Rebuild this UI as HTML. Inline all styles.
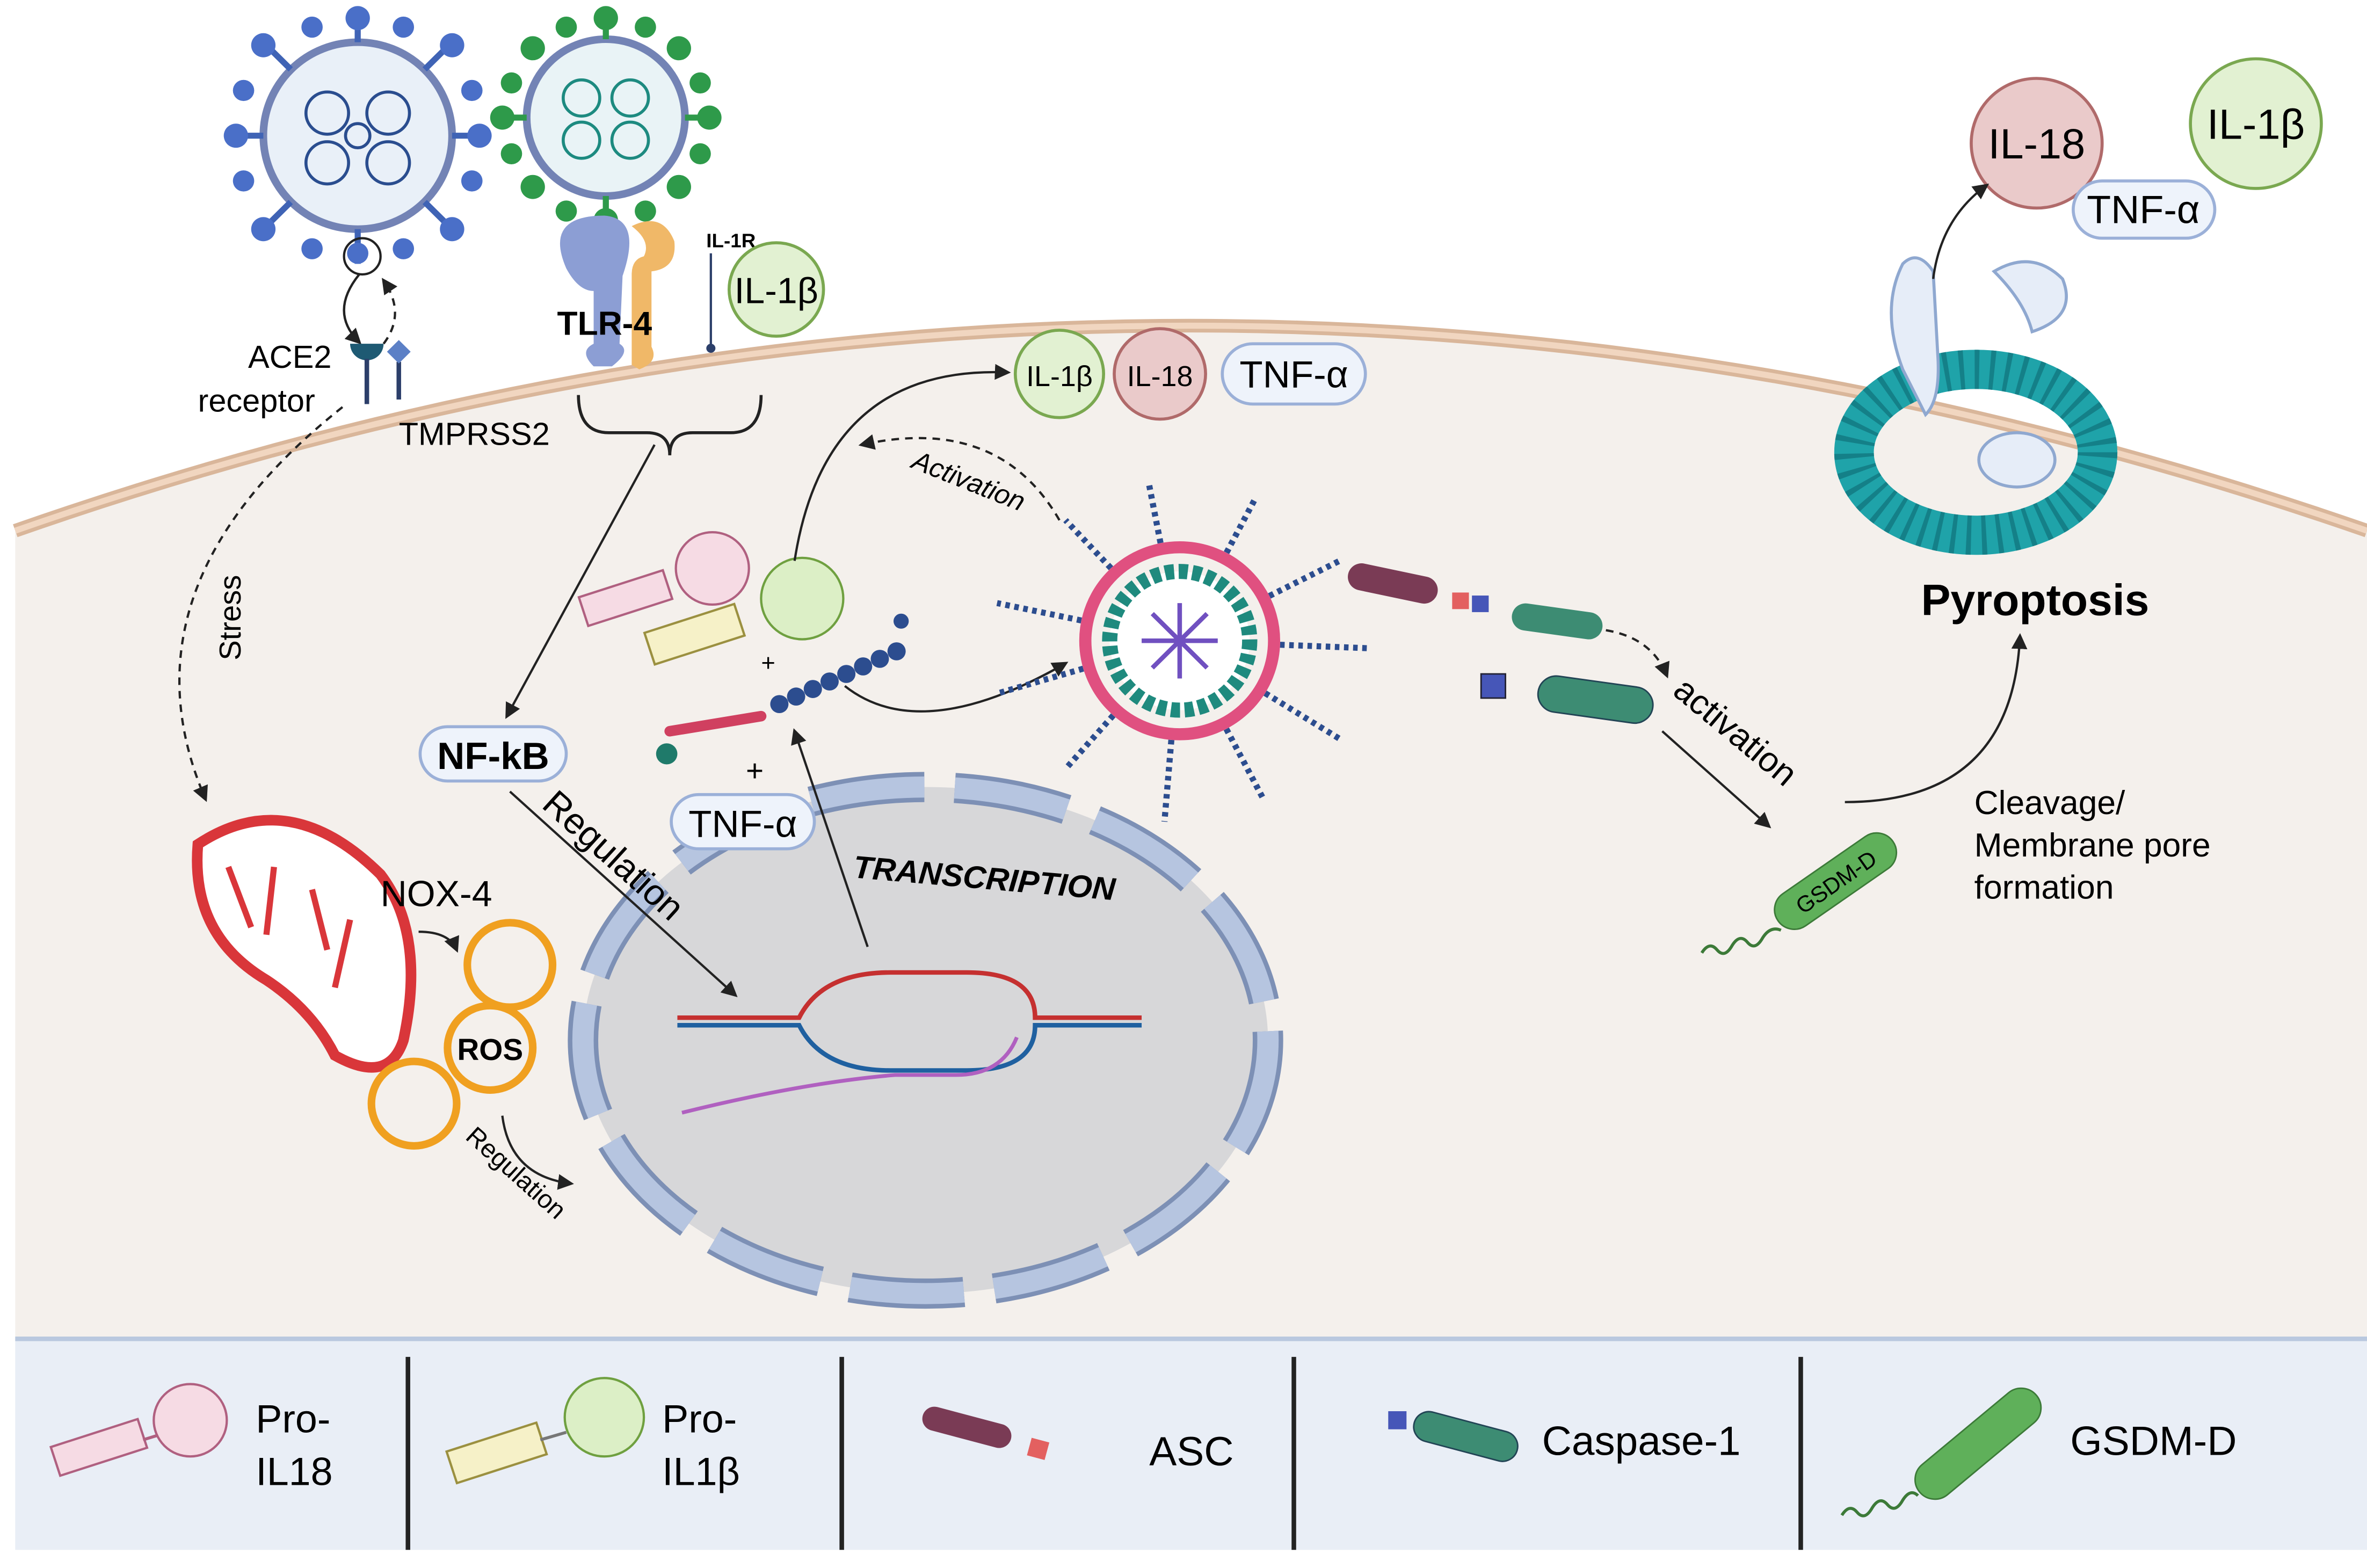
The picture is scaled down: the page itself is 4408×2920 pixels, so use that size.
<!DOCTYPE html>
<html><head><meta charset="utf-8"><style>
html,body{margin:0;padding:0;background:#fff;}
svg{display:block;}
text{font-family:"Liberation Sans",sans-serif;}
</style></head><body>
<svg width="4408" height="2920" viewBox="0 0 1555 1040" preserveAspectRatio="none" xmlns="http://www.w3.org/2000/svg">
<defs>
<marker id="ar" viewBox="0 0 10 10" refX="8" refY="5" markerWidth="7" markerHeight="7" orient="auto"><path d="M0,0 L10,5 L0,10 z" fill="#222"/></marker>
</defs>
<rect width="1555" height="1040" fill="#fff"/>
<path d="M10,352 Q780,80 1555,352 L1555,890 L10,890 Z" fill="#f4f0ec"/>
<path d="M10,352 Q780,80 1555,352" fill="none" stroke="#d9b69a" stroke-width="9"/>
<path d="M10,352 Q780,80 1555,352" fill="none" stroke="#f1d6c0" stroke-width="4"/>
<rect x="10" y="888" width="1545" height="140" fill="#e9eef6"/>
<line x1="10" y1="888" x2="1555" y2="888" stroke="#b9c8df" stroke-width="3"/>
<g stroke="#222" stroke-width="3"><line x1="268" y1="900" x2="268" y2="1028"/><line x1="553" y1="900" x2="553" y2="1028"/><line x1="850" y1="900" x2="850" y2="1028"/><line x1="1183" y1="900" x2="1183" y2="1028"/></g>
<g transform="rotate(-18 65 960)"><rect x="35" y="950" width="60" height="20" fill="#f6dbe4" stroke="#b06080" stroke-width="1.5"/></g>
<line x1="94" y1="955" x2="110" y2="950" stroke="#b06080" stroke-width="2"/>
<circle cx="125" cy="942" r="24" fill="#f6dbe4" stroke="#b06080" stroke-width="1.5"/>
<text x="168" y="950" font-size="26">Pro-</text><text x="168" y="985" font-size="26">IL18</text>
<g transform="rotate(-18 325 963)"><rect x="295" y="953" width="62" height="22" fill="#f6f1c8" stroke="#9b9040" stroke-width="1.5"/></g>
<line x1="355" y1="955" x2="372" y2="950" stroke="#777" stroke-width="2"/>
<circle cx="397" cy="940" r="26" fill="#dcefc6" stroke="#6fa040" stroke-width="1.5"/>
<text x="435" y="950" font-size="26">Pro-</text><text x="435" y="985" font-size="26">IL1β</text>
<g transform="rotate(15 640 948)"><rect x="605" y="940" width="60" height="16" rx="8" fill="#7a3b55"/></g>
<rect x="676" y="955" width="12" height="12" fill="#e36060" transform="rotate(15 682 961)"/>
<text x="755" y="972" font-size="27">ASC</text>
<rect x="912" y="936" width="12" height="12" fill="#4656b8"/>
<g transform="rotate(15 960 952)"><rect x="928" y="942" width="70" height="20" rx="10" fill="#3d8c73" stroke="#245" stroke-width="1"/></g>
<text x="1013" y="965" font-size="27">Caspase-1</text>
<g transform="rotate(-40 1295 960)"><rect x="1250" y="948" width="100" height="26" rx="13" fill="#5fb05a" stroke="#3c7a38"/></g>
<path d="M1210,1005 q5,-8 10,-2 q5,6 10,-3 q5,-8 10,-2 q5,6 10,-3 q5,-8 10,-3" fill="none" stroke="#3c7a38" stroke-width="2"/>
<text x="1360" y="965" font-size="27">GSDM-D</text>
<circle cx="235" cy="90" r="62" fill="#e9f0f8" stroke="#7383b5" stroke-width="5"/>
<g stroke="#3f63b5" stroke-width="4"><line x1="235" y1="28" x2="235" y2="10"/><line x1="235" y1="152" x2="235" y2="175"/><line x1="173" y1="90" x2="155" y2="90"/><line x1="297" y1="90" x2="315" y2="90"/><line x1="191" y1="46" x2="175" y2="30"/><line x1="279" y1="46" x2="295" y2="30"/><line x1="191" y1="134" x2="175" y2="150"/><line x1="279" y1="134" x2="295" y2="150"/></g>
<g fill="#4a6fc8"><circle cx="235" cy="12" r="8"/><circle cx="155" cy="90" r="8"/><circle cx="315" cy="90" r="8"/><circle cx="173" cy="30" r="8"/><circle cx="297" cy="30" r="8"/><circle cx="173" cy="152" r="8"/><circle cx="297" cy="152" r="8"/><circle cx="205" cy="18" r="7"/><circle cx="265" cy="18" r="7"/><circle cx="160" cy="60" r="7"/><circle cx="310" cy="60" r="7"/><circle cx="160" cy="120" r="7"/><circle cx="310" cy="120" r="7"/><circle cx="205" cy="165" r="7"/><circle cx="265" cy="165" r="7"/><circle cx="235" cy="168" r="7"/></g>
<g fill="none" stroke="#2a4d8f" stroke-width="2"><circle cx="215" cy="75" r="14"/><circle cx="255" cy="75" r="14"/><circle cx="215" cy="108" r="14"/><circle cx="255" cy="108" r="14"/><circle cx="235" cy="90" r="8"/></g>
<circle cx="238" cy="170" r="12" fill="none" stroke="#222" stroke-width="1.5"/>
<circle cx="398" cy="78" r="52" fill="#e9f3f6" stroke="#7383b5" stroke-width="5"/>
<g stroke="#2e9a4a" stroke-width="4"><line x1="398" y1="26" x2="398" y2="10"/><line x1="398" y1="130" x2="398" y2="146"/><line x1="346" y1="78" x2="330" y2="78"/><line x1="450" y1="78" x2="466" y2="78"/></g>
<g fill="#2e9a4a"><circle cx="398" cy="12" r="8"/><circle cx="398" cy="146" r="8"/><circle cx="330" cy="78" r="8"/><circle cx="466" cy="78" r="8"/><circle cx="350" cy="32" r="8"/><circle cx="446" cy="32" r="8"/><circle cx="350" cy="124" r="8"/><circle cx="446" cy="124" r="8"/><circle cx="372" cy="18" r="7"/><circle cx="424" cy="18" r="7"/><circle cx="336" cy="55" r="7"/><circle cx="460" cy="55" r="7"/><circle cx="336" cy="102" r="7"/><circle cx="460" cy="102" r="7"/><circle cx="372" cy="140" r="7"/><circle cx="424" cy="140" r="7"/></g>
<g fill="none" stroke="#1d8a80" stroke-width="2"><circle cx="382" cy="65" r="12"/><circle cx="414" cy="65" r="12"/><circle cx="382" cy="93" r="12"/><circle cx="414" cy="93" r="12"/></g>
<path d="M236,182 q-20,25 0,45" fill="none" stroke="#222" stroke-width="1.5" marker-end="url(#ar)"/>
<path d="M252,228 q15,-20 0,-42" fill="none" stroke="#222" stroke-width="1.5" stroke-dasharray="5,4" marker-end="url(#ar)"/>
<path d="M230,228 a11,11 0 0 0 22,0 z" fill="#1e5a73"/>
<line x1="241" y1="238" x2="241" y2="268" stroke="#2c3f6a" stroke-width="3"/>
<line x1="262" y1="240" x2="262" y2="265" stroke="#2c3f6a" stroke-width="3"/>
<rect x="256" y="228" width="11" height="11" fill="#5c80c6" transform="rotate(45 262 234)"/>
<text x="163" y="244" font-size="21">ACE2</text><text x="130" y="273" font-size="21">receptor</text>
<text x="262" y="295" font-size="21">TMPRSS2</text>
<path d="M372,178 q-15,-35 25,-35 q25,2 12,40 l-2,45 q8,5 -5,15 l-12,0 q-10,-10 0,-15 l0,-35 q-10,0 -18,-15z" fill="#8c9ed4"/>
<path d="M415,150 q20,-10 28,10 q2,18 -15,20 l0,50 q5,10 -8,15 l-5,-3 l0,-60 q0,-10 8,-12 q5,-10 -8,-20z" fill="#f0b868"/>
<text x="366" y="222" font-size="22" font-weight="bold">TLR-4</text>
<text x="464" y="164" font-size="13" font-weight="bold">IL-1R</text>
<line x1="467" y1="168" x2="467" y2="230" stroke="#2c3f6a" stroke-width="1.5"/><circle cx="467" cy="231" r="3" fill="#2c3f6a"/>
<circle cx="510" cy="192" r="31" fill="#e2f1d2" stroke="#7aa850" stroke-width="2"/>
<text x="510" y="201" font-size="24" text-anchor="middle">IL-1β</text>
<path d="M380,262 q0,25 20,25 l25,0 q15,0 15,15 q0,-15 15,-15 l25,0 q20,0 20,-25" fill="none" stroke="#222" stroke-width="2"/>
<circle cx="696" cy="248" r="29" fill="#e2f1d2" stroke="#7aa850" stroke-width="2"/><text x="696" y="256" font-size="19" text-anchor="middle">IL-1β</text>
<circle cx="762" cy="248" r="30" fill="#eacaca" stroke="#b06a6a" stroke-width="2"/><text x="762" y="256" font-size="19" text-anchor="middle">IL-18</text>
<rect x="803" y="228" width="94" height="40" rx="20" fill="#eef3fb" stroke="#9bb0d8" stroke-width="2"/><text x="850" y="257" font-size="25" text-anchor="middle">TNF-α</text>
<circle cx="1338" cy="95" r="43" fill="#eacaca" stroke="#b06a6a" stroke-width="2"/><text x="1338" y="105" font-size="28" text-anchor="middle">IL-18</text>
<circle cx="1482" cy="82" r="43" fill="#e2f1d2" stroke="#7aa850" stroke-width="2"/><text x="1482" y="92" font-size="28" text-anchor="middle">IL-1β</text>
<rect x="1362" y="120" width="93" height="38" rx="19" fill="#eef3fb" stroke="#9bb0d8" stroke-width="2"/><text x="1408" y="148" font-size="26" text-anchor="middle">TNF-α</text>
<ellipse cx="1298" cy="300" rx="80" ry="55" fill="none" stroke="#1fa3a9" stroke-width="26"/>
<ellipse cx="1298" cy="300" rx="80" ry="55" fill="none" stroke="#148088" stroke-width="26" stroke-dasharray="3,7"/>
<path d="M1250,175 q-15,30 0,70 l15,30 q10,-10 8,-40 l-3,-55 q-10,-15 -20,-5z" fill="#e6edf8" stroke="#8fa8d0" stroke-width="2"/>
<path d="M1310,180 q25,-15 45,5 q10,25 -20,35 q-5,-20 -25,-40z" fill="#e6edf8" stroke="#8fa8d0" stroke-width="2"/>
<ellipse cx="1325" cy="305" rx="25" ry="18" fill="#e6edf8" stroke="#8fa8d0" stroke-width="2"/>
<path d="M1270,185 q5,-40 35,-62" fill="none" stroke="#222" stroke-width="1.5" marker-end="url(#ar)"/>
<text x="1337" y="408" font-size="29" font-weight="bold" text-anchor="middle">Pyroptosis</text>
<path d="M1212,532 q110,0 115,-110" fill="none" stroke="#222" stroke-width="1.5" marker-end="url(#ar)"/>
<text x="1297" y="540" font-size="22">Cleavage/</text><text x="1297" y="568" font-size="22">Membrane pore</text><text x="1297" y="596" font-size="22">formation</text>
<line x1="430" y1="295" x2="333" y2="475" stroke="#222" stroke-width="1.5" marker-end="url(#ar)"/>
<path d="M225,270 q-150,120 -90,260" fill="none" stroke="#222" stroke-width="1.5" stroke-dasharray="5,4" marker-end="url(#ar)"/>
<text transform="translate(158,438) rotate(-90)" font-size="20">Stress</text>
<rect x="276" y="482" width="96" height="36" rx="18" fill="#eef3fb" stroke="#9bb0d8" stroke-width="2"/><text x="324" y="510" font-size="25" font-weight="bold" text-anchor="middle">NF-kB</text>
<path d="M130,560 q60,-40 120,20 q30,40 15,110 q-10,30 -45,10 q-15,-30 -45,-50 q-50,-30 -45,-90z" fill="#fff" stroke="#d9363a" stroke-width="7"/>
<path d="M150,575 l15,40 M180,575 l-5,45 M205,590 l10,40 M230,610 l-10,45" stroke="#d9363a" stroke-width="4"/>
<text x="250" y="601" font-size="24">NOX-4</text>
<path d="M275,618 q20,0 25,12" fill="none" stroke="#222" stroke-width="1.5" marker-end="url(#ar)"/>
<g fill="none" stroke="#f0a020" stroke-width="5"><circle cx="335" cy="640" r="28"/><circle cx="322" cy="695" r="28"/><circle cx="272" cy="732" r="28"/></g>
<text x="322" y="703" font-size="20" font-weight="bold" text-anchor="middle">ROS</text>
<path d="M330,740 q5,40 45,45" fill="none" stroke="#222" stroke-width="1.5" marker-end="url(#ar)"/>
<text transform="translate(305,755) rotate(42)" font-size="17">Regulation</text>
<ellipse cx="608" cy="690" rx="225" ry="168" fill="#d7d7d9"/>
<ellipse cx="608" cy="690" rx="225" ry="168" fill="none" stroke="#7d90b5" stroke-width="20" stroke-dasharray="75,20"/>
<ellipse cx="608" cy="690" rx="225" ry="168" fill="none" stroke="#b6c5e0" stroke-width="14" stroke-dasharray="75,20"/>
<line x1="335" y1="525" x2="483" y2="660" stroke="#222" stroke-width="1.5" marker-end="url(#ar)"/>
<text transform="translate(355,535) rotate(42)" font-size="24">Regulation</text>
<text transform="translate(560,582) rotate(5)" font-size="21" font-weight="bold" font-style="italic">TRANSCRIPTION</text>
<path d="M445,675 l80,0 q15,-30 60,-30 l50,0 q45,0 45,30 l70,0" fill="none" stroke="#c53030" stroke-width="3"/>
<path d="M445,680 l80,0 q15,30 60,30 l50,0 q45,0 45,-30 l70,0" fill="none" stroke="#1f60a0" stroke-width="3"/>
<path d="M448,738 q80,-20 140,-25 l40,0 q30,0 40,-25" fill="none" stroke="#b060c0" stroke-width="2.5"/>
<line x1="570" y1="628" x2="522" y2="485" stroke="#222" stroke-width="1.5" marker-end="url(#ar)"/>
<text x="490" y="518" font-size="20">+</text>
<rect x="441" y="527" width="94" height="36" rx="18" fill="#eef3fb" stroke="#9bb0d8" stroke-width="2"/><text x="488" y="555" font-size="25" text-anchor="middle">TNF-α</text>
<g transform="rotate(-18 410 397)"><rect x="382" y="387" width="58" height="20" fill="#f6dbe4" stroke="#b06080" stroke-width="1.5"/></g>
<circle cx="468" cy="377" r="24" fill="#f6dbe4" stroke="#b06080" stroke-width="1.5"/>
<g transform="rotate(-18 455 420)"><rect x="425" y="410" width="62" height="22" fill="#f6f1c8" stroke="#9b9040" stroke-width="1.5"/></g>
<circle cx="527" cy="397" r="27" fill="#dcefc6" stroke="#6fa040" stroke-width="1.5"/>
<text x="500" y="445" font-size="16">+</text>
<path d="M522,372 q20,-130 140,-125" fill="none" stroke="#222" stroke-width="1.5" marker-end="url(#ar)"/>
<path d="M696,345 q-40,-70 -130,-50" fill="none" stroke="#222" stroke-width="1.5" stroke-dasharray="5,4" marker-end="url(#ar)"/>
<text transform="translate(598,310) rotate(22)" font-size="18" font-style="italic">Activation</text>
<line x1="440" y1="485" x2="500" y2="475" stroke="#d04060" stroke-width="7" stroke-linecap="round"/>
<circle cx="438" cy="500" r="7" fill="#1f7a6a"/>
<g fill="#2c4d8f"><circle cx="512" cy="467" r="6"/><circle cx="523" cy="462" r="6"/><circle cx="534" cy="457" r="6"/><circle cx="545" cy="452" r="6"/><circle cx="556" cy="447" r="6"/><circle cx="567" cy="442" r="6"/><circle cx="578" cy="437" r="6"/><circle cx="589" cy="432" r="6"/><circle cx="592" cy="412" r="5"/></g>
<path d="M555,455 q50,40 145,-15" fill="none" stroke="#222" stroke-width="1.5" marker-end="url(#ar)"/>
<g stroke="#2c4d8f" stroke-width="4" stroke-dasharray="3,3"><line x1="775" y1="425" x2="700" y2="345"/><line x1="775" y1="425" x2="755" y2="322"/><line x1="775" y1="425" x2="825" y2="330"/><line x1="775" y1="425" x2="880" y2="372"/><line x1="775" y1="425" x2="900" y2="430"/><line x1="775" y1="425" x2="880" y2="490"/><line x1="775" y1="425" x2="830" y2="530"/><line x1="775" y1="425" x2="765" y2="545"/><line x1="775" y1="425" x2="700" y2="510"/><line x1="775" y1="425" x2="655" y2="460"/><line x1="775" y1="425" x2="655" y2="400"/></g>
<circle cx="775" cy="425" r="62" fill="#f4f0ec" stroke="#e05080" stroke-width="8"/>
<circle cx="775" cy="425" r="46" fill="#fff" stroke="#1f8a7e" stroke-width="10" stroke-dasharray="6,3"/>
<g stroke="#7050c0" stroke-width="3"><line x1="750" y1="425" x2="800" y2="425"/><line x1="775" y1="400" x2="775" y2="450"/><line x1="757" y1="407" x2="793" y2="443"/><line x1="793" y1="407" x2="757" y2="443"/></g>
<g transform="rotate(12 915 387)"><rect x="885" y="378" width="60" height="18" rx="9" fill="#7a3b55"/></g>
<rect x="954" y="393" width="11" height="11" fill="#e36060"/><rect x="967" y="395" width="11" height="11" fill="#4656b8"/>
<g transform="rotate(8 1022 412)"><rect x="993" y="403" width="60" height="18" rx="9" fill="#3d8c73"/></g>
<path d="M1055,418 q30,5 40,30" fill="none" stroke="#222" stroke-width="1.5" stroke-dasharray="5,4" marker-end="url(#ar)"/>
<rect x="973" y="447" width="16" height="16" fill="#4656b8" stroke="#223"/>
<g transform="rotate(8 1048 465)"><rect x="1010" y="452" width="76" height="24" rx="12" fill="#3d8c73" stroke="#245"/></g>
<line x1="1092" y1="485" x2="1162" y2="548" stroke="#222" stroke-width="1.5" marker-end="url(#ar)"/>
<text transform="translate(1098,460) rotate(40)" font-size="23">activation</text>
<g transform="rotate(-35 1205 585)"><rect x="1160" y="572" width="92" height="26" rx="13" fill="#5fb05a" stroke="#3c7a38"/><text x="1206" y="591" font-size="15" text-anchor="middle">GSDM-D</text></g>
<path d="M1118,632 q5,-8 10,-2 q5,6 10,-3 q5,-8 10,-2 q5,6 10,-3 q5,-8 12,-5" fill="none" stroke="#3c7a38" stroke-width="2"/>
</svg>
</body></html>
